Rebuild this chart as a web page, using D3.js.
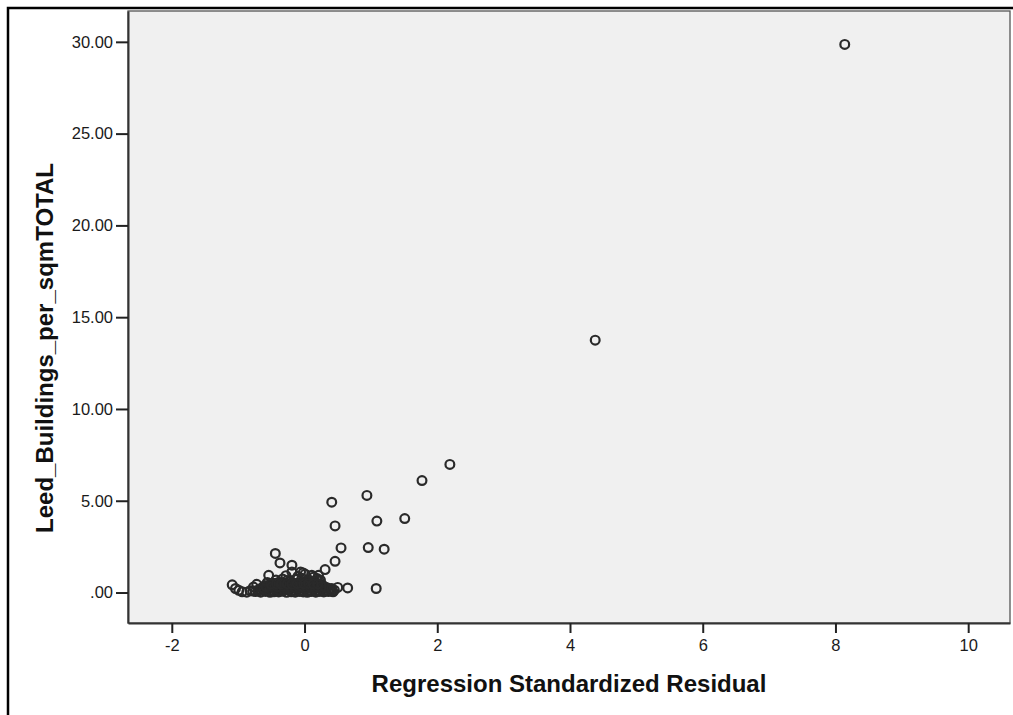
<!DOCTYPE html>
<html lang="en">
<head>
  <meta charset="UTF-8">
  <title>Scatter</title>
  <style>
    body { margin: 0; background: #fff; }
    text { font-family: "Liberation Sans", Arial, sans-serif; }
  </style>
</head>
<body>
  <svg id="mainsvg" width="1013" height="715"></svg>
  <script src="https://cdn.jsdelivr.net/npm/d3@7"></script>
  <script>
    // tick labels
    const xTicks = [-2, 0, 2, 4, 6, 8, 10]
    const yTicks = [0, 5, 10, 15, 20, 25, 30]

    // outliers / spread points [residual, leed]
    const spreadPoints = [
      [0.31, 1.25], [0.46, 1.70], [0.55, 2.43], [0.41, 0.22], [0.50, 0.28], [0.65, 0.25],
      [1.08, 0.22], [0.46, 3.63], [0.41, 4.92], [0.94, 5.29], [1.09, 3.89], [1.51, 4.03],
      [0.96, 2.45], [1.20, 2.36], [1.77, 6.10], [2.19, 6.98], [4.38, 13.75], [8.14, 29.86]
    ]

    // dense cluster round zero
    const clusterPoints = [
      [-1.09, 0.42], [-1.04, 0.22], [-0.99, 0.12], [-0.94, 0.04], [-0.87, 0.02], [-0.82, 0.10],
      [-0.77, 0.30], [-0.72, 0.45], [-0.67, 0.18],
      [-0.74, 0.05], [-0.66, 0.02], [-0.59, 0.06], [-0.52, 0.01], [-0.46, 0.04], [-0.39, 0.03],
      [-0.33, 0.07], [-0.27, 0.01], [-0.20, 0.04], [-0.14, 0.02], [-0.08, 0.06], [-0.02, 0.03],
      [0.04, 0.01], [0.10, 0.05], [0.17, 0.02], [0.23, 0.06], [0.29, 0.03], [0.36, 0.05], [0.43, 0.04],
      [-0.70, 0.14], [-0.62, 0.12], [-0.55, 0.17], [-0.48, 0.13], [-0.42, 0.16], [-0.35, 0.12],
      [-0.29, 0.18], [-0.23, 0.14], [-0.17, 0.11], [-0.11, 0.16], [-0.05, 0.13], [0.01, 0.17],
      [0.07, 0.12], [0.13, 0.15], [0.19, 0.11], [0.26, 0.16], [0.32, 0.13], [0.39, 0.15],
      [-0.64, 0.26], [-0.57, 0.24], [-0.50, 0.28], [-0.44, 0.23], [-0.37, 0.27], [-0.31, 0.25],
      [-0.25, 0.29], [-0.19, 0.24], [-0.13, 0.27], [-0.07, 0.23], [-0.01, 0.28], [0.05, 0.25],
      [0.11, 0.29], [0.16, 0.24], [0.22, 0.27], [0.28, 0.23], [0.34, 0.26],
      [-0.60, 0.38], [-0.53, 0.40], [-0.46, 0.36], [-0.40, 0.41], [-0.34, 0.37], [-0.28, 0.39],
      [-0.21, 0.42], [-0.15, 0.36], [-0.09, 0.40], [-0.03, 0.37], [0.03, 0.41], [0.09, 0.38],
      [0.15, 0.42], [0.21, 0.36], [0.27, 0.40],
      [-0.56, 0.55], [-0.47, 0.50], [-0.39, 0.56], [-0.31, 0.52], [-0.24, 0.58], [-0.16, 0.51],
      [-0.08, 0.55], [0.00, 0.53], [0.08, 0.57], [0.16, 0.50], [0.22, 0.62],
      [-0.43, 0.68], [-0.33, 0.74], [-0.26, 0.66], [-0.12, 0.72], [-0.04, 0.78], [0.06, 0.70], [0.19, 0.76],
      [-0.54, 0.94], [-0.44, 2.13], [-0.37, 1.61], [-0.19, 1.49], [-0.19, 1.12], [-0.06, 1.12],
      [-0.02, 1.07], [0.01, 1.00], [0.11, 0.94], [0.14, 0.85], [0.21, 0.94], [0.24, 0.67],
      [-0.28, 0.92], [-0.10, 0.88],
      // second pass through the band
      [-0.78, 0.08], [-0.69, 0.09], [-0.61, 0.20], [-0.53, 0.09], [-0.45, 0.21], [-0.37, 0.09],
      [-0.31, 0.13], [-0.24, 0.21], [-0.18, 0.08], [-0.12, 0.20], [-0.06, 0.09], [0.00, 0.21],
      [0.06, 0.08], [0.12, 0.20], [0.18, 0.07], [0.24, 0.19], [0.30, 0.09], [0.37, 0.20],
      [0.41, 0.10], [0.45, 0.13], [-0.58, 0.32], [-0.49, 0.33], [-0.41, 0.31], [-0.32, 0.33],
      [-0.23, 0.34], [-0.16, 0.31], [-0.10, 0.33], [-0.04, 0.32], [0.02, 0.34], [0.08, 0.31],
      [0.14, 0.33], [0.20, 0.31], [0.25, 0.33], [0.31, 0.30],
      [-0.51, 0.46], [-0.42, 0.47], [-0.35, 0.46], [-0.26, 0.47], [-0.19, 0.46], [-0.11, 0.48],
      [-0.01, 0.46], [0.06, 0.48], [0.13, 0.46], [0.20, 0.47]
    ]

    const points = clusterPoints.concat(spreadPoints)

    const svg = d3.select('#mainsvg')
    const width = +svg.attr('width')
    const height = +svg.attr('height')

    // plot frame
    const plot = { left: 128, top: 11, right: 1010, bottom: 623 }

    const xScale = d3.scaleLinear().domain([-2.66, 10.63]).range([plot.left, plot.right])
    const yScale = d3.scaleLinear().domain([-1.66, 31.68]).range([plot.bottom, plot.top])

    // outer black border (only top and left are in view)
    svg.append('path')
      .attr('d', `M8,${height} L8,8 L${width},8`)
      .attr('fill', 'none')
      .attr('stroke', '#000')
      .attr('stroke-width', 2.5)

    svg.append('rect')
      .attr('x', plot.left).attr('y', plot.top)
      .attr('width', plot.right - plot.left).attr('height', plot.bottom - plot.top)
      .attr('fill', '#f0f0f0')
      .attr('stroke', '#555')
      .attr('stroke-width', 1.3)

    // axes
    const yAxis = d3.axisLeft(yScale)
      .tickValues(yTicks)
      .tickFormat(d => d === 0 ? '.00' : d.toFixed(2))
      .tickSize(12).tickSizeOuter(0).tickPadding(3)
    const yg = svg.append('g').attr('transform', `translate(${plot.left},0)`).call(yAxis)

    const xAxis = d3.axisBottom(xScale)
      .tickValues(xTicks)
      .tickFormat(d => String(d))
      .tickSize(10).tickSizeOuter(0).tickPadding(6)
    const xg = svg.append('g').attr('transform', `translate(0,${plot.bottom})`).call(xAxis)

    ;[xg, yg].forEach(g => {
      g.select('.domain').attr('stroke', '#333').attr('stroke-width', 2)
      g.selectAll('.tick line').attr('stroke', '#222').attr('stroke-width', 2)
      g.selectAll('.tick text')
        .attr('font-size', 16.5)
        .attr('fill', '#1a1a1a')
        .attr('font-family', '"Liberation Sans", Arial, sans-serif')
    })

    // markers
    svg.append('g')
      .selectAll('circle')
      .data(points)
      .join('circle')
      .attr('cx', d => xScale(d[0]))
      .attr('cy', d => yScale(d[1]))
      .attr('r', 4.4)
      .attr('fill', 'none')
      .attr('stroke', '#2a2a2a')
      .attr('stroke-width', 2.2)

    // axis titles
    svg.append('text')
      .text('Regression Standardized Residual')
      .attr('x', (plot.left + plot.right) / 2)
      .attr('y', 692)
      .attr('text-anchor', 'middle')
      .attr('font-size', 24)
      .attr('font-weight', 'bold')
      .attr('fill', '#111')

    svg.append('text')
      .text('Leed_Buildings_per_sqmTOTAL')
      .attr('transform', 'translate(53, 348) rotate(-90)')
      .attr('text-anchor', 'middle')
      .attr('font-size', 24)
      .attr('font-weight', 'bold')
      .attr('fill', '#111')
  </script>
</body>
</html>
